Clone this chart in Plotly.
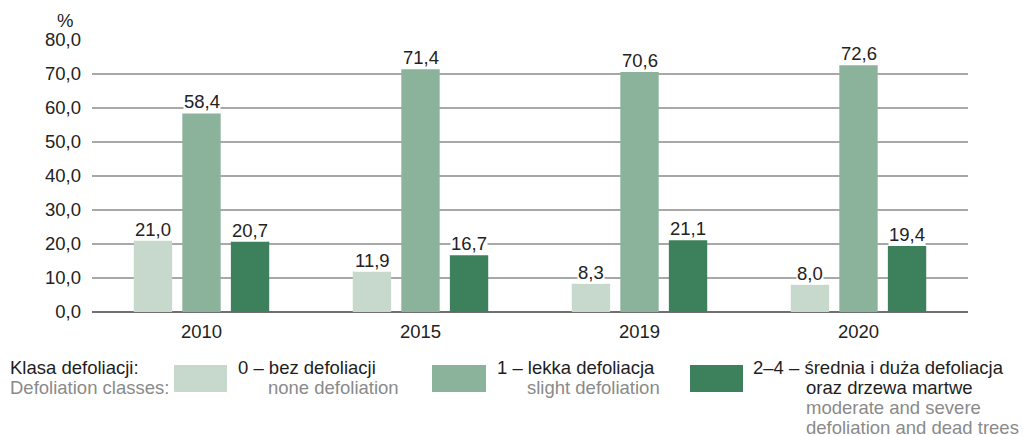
import plotly.graph_objects as go

years = ["2010", "2015", "2019", "2020"]
none_def = [21.0, 11.9, 8.3, 8.0]
slight_def = [58.4, 71.4, 70.6, 72.6]
moderate_def = [20.7, 16.7, 21.1, 19.4]
y_ticks = [0, 10, 20, 30, 40, 50, 60, 70, 80]

colors = ["#c6d9cc", "#8bb39c", "#3d805c"]
series = [none_def, slight_def, moderate_def]
FONT = "Liberation Sans, Arial, sans-serif"
FS = 18.5

fig = go.Figure()
for vals, col in zip(series, colors):
    fig.add_trace(go.Bar(x=years, y=vals, marker=dict(color=col, line=dict(width=0)),
                         showlegend=False, hoverinfo="skip"))

# value labels on a white background so they sit above the grid;
# positioned by category index (numeric-looking names would be read as indices)
shifts = [-48.5, 0, 48.5]
for vals, sh in zip(series, shifts):
    for i, v in enumerate(vals):
        fig.add_annotation(x=i, y=v, text=f"{v:.1f}".replace(".", ","), showarrow=False,
                           xshift=sh, yshift=0, yanchor="bottom", bgcolor="white",
                           borderpad=0, font=dict(size=FS, color="#222222", family=FONT))

W, H, L, T = 1023, 436, 92, 40
R, B = 968, 312
PW, PH = R - L, B - T


def px(xp):
    return (xp - L) / PW


def py(yp):
    return (B - yp) / PH


fig.add_annotation(xref="paper", yref="paper", x=px(65), y=py(20), text="%",
                   showarrow=False, xanchor="center", yanchor="middle",
                   font=dict(size=FS, color="#222222", family=FONT))


# legend built from shapes and text
def txt(x, y, s, color):
    fig.add_annotation(xref="paper", yref="paper", x=px(x), y=py(y), text=s, showarrow=False,
                       xanchor="left", yanchor="middle",
                       font=dict(size=FS, color=color, family=FONT))


dark, grey = "#1e1e1e", "#8a8a8a"
txt(8, 367, "Klasa defoliacji:", dark)
txt(8, 387.5, "Defoliation classes:", grey)
for (x0, x1), col in zip([(174, 227), (432, 486), (690, 743)], colors):
    fig.add_shape(type="rect", xref="paper", yref="paper", x0=px(x0), x1=px(x1),
                  y0=py(392), y1=py(365), fillcolor=col, line=dict(width=0))
txt(236, 367, "0 – bez defoliacji", dark)
txt(266, 387.5, "none defoliation", grey)
txt(495, 367, "1 – lekka defoliacja", dark)
txt(525, 387.5, "slight defoliation", grey)
txt(751, 367, "2–4 – średnia i duża defoliacja", dark)
txt(804, 387.5, "oraz drzewa martwe", dark)
txt(804, 407.5, "moderate and severe", grey)
txt(804, 427, "defoliation and dead trees", grey)

fig.update_layout(
    width=W, height=H,
    margin=dict(l=L, r=W - R, t=T, b=H - B),
    paper_bgcolor="white", plot_bgcolor="white",
    barmode="group", bargap=0.335, bargroupgap=0.21,
    font=dict(family=FONT, size=FS, color="#222222"),
    xaxis=dict(type="category", range=[-0.5, len(years) - 0.5], showgrid=False,
               showline=False, ticks="", ticklabelstandoff=6,
               tickfont=dict(size=FS, color="#222222")),
    yaxis=dict(range=[0, 80], tickvals=y_ticks,
               ticktext=[f"{v:.1f}".replace(".", ",") for v in y_ticks],
               showgrid=True, gridcolor="#a8a8a8", gridwidth=1.5,
               zeroline=True, zerolinecolor="#707070", zerolinewidth=1.5,
               showline=False, ticks="", ticklabelstandoff=10,
               tickfont=dict(size=FS, color="#222222")),
)

fig.write_html("out.html")
